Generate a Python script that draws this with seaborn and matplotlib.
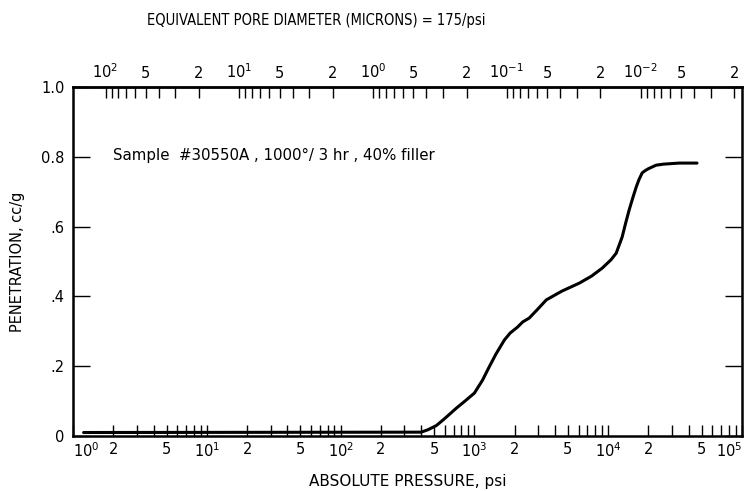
import numpy as np
import pandas as pd
import matplotlib
matplotlib.use("Agg")
import matplotlib.pyplot as plt
from matplotlib.ticker import FixedLocator, NullFormatter
import seaborn as sns

# ---- data ----
pressure_psi = [1.2, 400, 450, 520, 600, 734, 850, 1000, 1150, 1290, 1450, 1675, 1850,
                2100, 2300, 2570, 3000, 3446, 4500, 6080, 7500, 9020, 10500, 11480,
                12710, 13500, 14350, 15200, 16180, 17000, 17950, 19000, 20000, 22800,
                26000, 33900, 46100]
penetration = [0.010, 0.011, 0.018, 0.030, 0.050, 0.080, 0.100, 0.123, 0.160, 0.198,
               0.235, 0.275, 0.295, 0.312, 0.327, 0.338, 0.365, 0.390, 0.415, 0.438,
               0.458, 0.481, 0.505, 0.524, 0.570, 0.610, 0.648, 0.680, 0.713, 0.735,
               0.754, 0.761, 0.766, 0.776, 0.779, 0.782, 0.782]

bottom_ticks = [1, 2, 5, 10, 20, 50, 100, 200, 500, 1e3, 2e3, 5e3, 1e4, 2e4, 5e4, 1e5]
bottom_labels = ['$10^{0}$', '2', '5', '$10^{1}$', '2', '5', '$10^{2}$', '2', '5',
                 '$10^{3}$', '2', '5', '$10^{4}$', '2', '5', '$10^{5}$']
top_ticks = [100, 50, 20, 10, 5, 2, 1, 0.5, 0.2, 0.1, 0.05, 0.02, 0.01, 0.005, 0.002]
top_labels = ['$10^{2}$', '5', '2', '$10^{1}$', '5', '2', '$10^{0}$', '5', '2',
              '$10^{-1}$', '5', '2', '$10^{-2}$', '5', '2']
y_ticks = [0, 0.2, 0.4, 0.6, 0.8, 1.0]
y_labels = ['0', '.2', '.4', '.6', '0.8', '1.0']
PORE_CONST = 175.0

df = pd.DataFrame({"pressure": pressure_psi, "penetration": penetration})

sns.set_style("ticks")
plt.rcParams['font.family'] = ['DejaVu Sans']
plt.rcParams['mathtext.fontset'] = 'dejavusans'
plt.rcParams['text.color'] = 'black'
plt.rcParams['axes.labelcolor'] = 'black'
plt.rcParams['xtick.color'] = 'black'
plt.rcParams['ytick.color'] = 'black'

fig = plt.figure(figsize=(7.48, 4.91), dpi=100)
ax = fig.add_axes([73/748, 55/491, 669/748, 349/491])

sns.lineplot(data=df, x="pressure", y="penetration", ax=ax, color='black',
             linewidth=2.2, estimator=None, sort=False)

ax.set_xscale('log')
ax.set_xlim(1, 1e5)
ax.set_ylim(0, 1.0)

# bottom axis
minor_b = [m * 10**e for e in range(0, 5) for m in range(2, 10)]
minor_b = [v for v in minor_b if v not in bottom_ticks]
ax.xaxis.set_major_locator(FixedLocator(bottom_ticks))
ax.set_xticklabels(bottom_labels)
ax.xaxis.set_minor_locator(FixedLocator(minor_b))
ax.xaxis.set_minor_formatter(NullFormatter())
ax.tick_params(axis='x', which='both', direction='in', bottom=True, top=False,
               length=8, width=1, labelsize=10.5, pad=4, labelcolor='black')
xt = ax.get_xticklabels()
xt[-1].set_horizontalalignment('right')
xt[0].set_horizontalalignment('left')

# y axis
ax.set_yticks(y_ticks)
ax.set_yticklabels(y_labels)
ax.tick_params(axis='y', which='major', direction='in', left=True, right=True,
               length=12, width=1, labelsize=10.5, pad=6, labelcolor='black')
ax.yaxis.set_minor_locator(FixedLocator([]))

for s in ax.spines.values():
    s.set_linewidth(1.8)
    s.set_color('black')

# top axis: equivalent pore diameter = 175 / psi
sec = ax.secondary_xaxis('top', functions=(lambda p: PORE_CONST / p,
                                            lambda d: PORE_CONST / d))
minor_t = [m * 10**e for e in range(-3, 3) for m in range(2, 10)]
minor_t = [v for v in minor_t if v not in top_ticks and 0.00175 <= v <= 175]
sec.xaxis.set_major_locator(FixedLocator(top_ticks))
sec.set_xticklabels(top_labels)
sec.xaxis.set_minor_locator(FixedLocator(minor_t))
sec.xaxis.set_minor_formatter(NullFormatter())
sec.tick_params(axis='x', which='both', direction='in', length=8, width=1,
                labelsize=10.5, pad=4, labelcolor='black')
sec.spines['top'].set_linewidth(1.8)

ax.set_xlabel('ABSOLUTE PRESSURE, psi', fontsize=11, labelpad=10, color='black')
ax.set_ylabel('PENETRATION, cc/g', fontsize=10.5, labelpad=12, color='black')
fig.text(316/748, 1 - 20/491, 'EQUIVALENT PORE DIAMETER (MICRONS) = 175/psi',
         ha='center', va='center', fontsize=10.5, fontstretch='condensed',
         color='black')
ax.text((113 - 73) / 669, (436 - 155) / 349,
        'Sample  #30550A , 1000°/ 3 hr , 40% filler',
        transform=ax.transAxes, fontsize=10.8, va='center', ha='left', color='black')

fig.savefig('out.png', dpi=100)
